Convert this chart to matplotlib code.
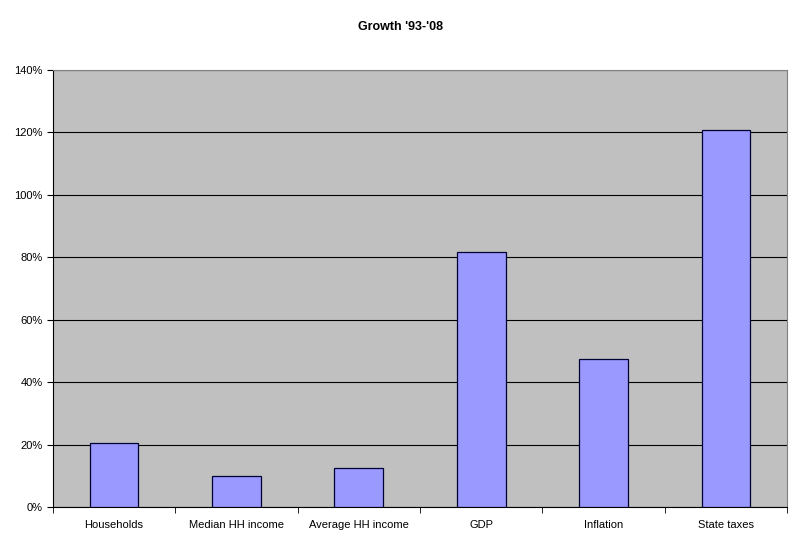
import matplotlib.pyplot as plt
import numpy as np
from matplotlib.ticker import PercentFormatter, FixedLocator

categories = ["Households", "Median HH income", "Average HH income", "GDP", "Inflation", "State taxes"]
growth = [20.5, 9.8, 12.6, 81.7, 47.4, 120.8]
y_ticks = [0, 20, 40, 60, 80, 100, 120, 140]


def main():
    plt.rcParams["font.family"] = ["Liberation Sans", "DejaVu Sans"]
    fig = plt.figure(figsize=(8.0, 5.47), dpi=100)
    ax = fig.add_axes([0.066, 0.073, 0.918, 0.799])

    ax.set_facecolor("#C0C0C0")
    x = np.arange(len(categories))
    ax.bar(x, growth, width=0.4, color="#9999FF", edgecolor="#000033", linewidth=0.9, zorder=3)

    ax.set_xlim(-0.5, len(categories) - 0.5)
    ax.set_ylim(0, 140)
    ax.set_yticks(y_ticks)
    ax.yaxis.set_major_formatter(PercentFormatter(decimals=0))
    ax.grid(axis="y", color="black", linewidth=0.8, zorder=1)

    ax.set_xticks(x)
    ax.set_xticklabels(categories, fontsize=8)
    ax.tick_params(axis="x", length=0, pad=9)
    ax.xaxis.set_minor_locator(FixedLocator(np.arange(len(categories) + 1) - 0.5))
    ax.tick_params(axis="x", which="minor", length=4, direction="out", color="black")
    ax.tick_params(axis="y", labelsize=8, length=4, direction="out")

    for side in ["top", "right"]:
        ax.spines[side].set_color("#808080")
    ax.spines["left"].set_color("black")
    ax.spines["bottom"].set_color("black")

    fig.suptitle("Growth '93-'08", y=0.962, fontsize=9, fontweight="bold")

    fig.savefig("out.png", dpi=100)
    plt.close(fig)


if __name__ == "__main__":
    main()
